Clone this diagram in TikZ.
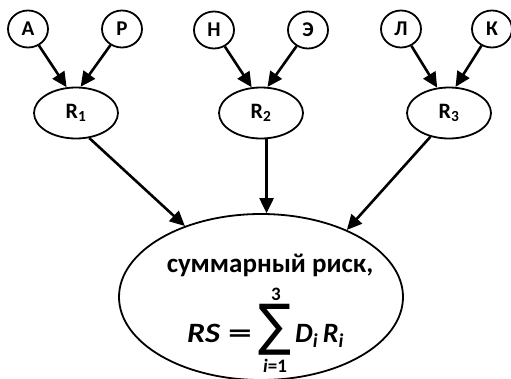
\documentclass[tikz,border=0pt]{standalone}
\usepackage{fontspec}
\setmainfont{Carlito}
\newfontfamily\djv{DejaVu Sans}
\usepackage{graphicx}
\usetikzlibrary{arrows.meta,shapes.geometric}
\tikzset{
  leaf/.style={draw,ellipse,line width=1.8pt,minimum width=40pt,minimum height=37pt,inner sep=0pt,font=\fontsize{21}{23}\selectfont\bfseries},
  mid/.style={draw,ellipse,line width=1.8pt,minimum width=84pt,minimum height=51pt,inner sep=0pt,font=\fontsize{22}{24}\selectfont\bfseries},
  big/.style={draw,ellipse,line width=1.8pt,minimum width=284pt,minimum height=166pt,inner sep=0pt},
  arr/.style={line width=2.6pt,-{Triangle[length=15pt,width=14pt]}},
  txt/.style={inner sep=0pt,font=\fontsize{27}{29}\selectfont\bfseries},
  frm/.style={inner sep=0pt,font=\fontsize{28}{30}\selectfont\bfseries\itshape},
  eqs/.style={inner sep=0pt,font=\fontsize{28}{30}\selectfont\bfseries},
  lim/.style={inner sep=0pt,font=\fontsize{19}{21}\selectfont\bfseries}
}
\begin{document}
\begin{tikzpicture}[x=1pt,y=-1pt]
\useasboundingbox (0,0) rectangle (511,378);
\clip (0,0) rectangle (511,378);
% leaves
\node[leaf] (a) at (28,29) {А};
\node[leaf] (p) at (122,29) {Р};
\node[leaf] (n) at (214,30) {Н};
\node[leaf] (e) at (308,30) {Э};
\node[leaf] (l) at (401,29) {Л};
\node[leaf] (k) at (492,29) {К};
% middle
\node[mid] (r1) at (76,113) {R\textsubscript{1}};
\node[mid] (r2) at (261,113) {R\textsubscript{2}};
\node[mid] (r3) at (449,113) {R\textsubscript{3}};
% big
\node[big] (s) at (261,297) {};
\node[txt,anchor=base] (t) at (270,272) {суммарный риск,};
\node[frm,anchor=base west] (rs) at (187,342) {\scalebox{1.15}[1]{RS}};
\node[eqs,anchor=base] (eq) at (240,342) {\scalebox{1.7}[1]{=}};
\node[inner sep=0pt] (sum) at (275,330) {\resizebox*{33pt}{51pt}{\djv ∑}};
\node[lim,anchor=base] (up) at (276,300) {3};
\node[lim,anchor=base] (lo) at (275,372) {\itshape i\upshape =1};
\node[frm,anchor=base west] (dr) at (295,342) {D\textsubscript{i}\,R\textsubscript{i}};
% arrows
\draw[arr] (a) -- (r1.110);
\draw[arr] (p) -- (r1.80);
\draw[arr] (n) -- (r2.110);
\draw[arr] (e) -- (r2.76);
\draw[arr] (l) -- (r3.115);
\draw[arr] (k) -- (r3.76);
\draw[arr] (r1.-62) -- (s.137);
\draw[arr] (r2.-78) -- (r2.-78 |- s.north);
\draw[arr] (r3.-128) -- (s.38);
\end{tikzpicture}
\end{document}
